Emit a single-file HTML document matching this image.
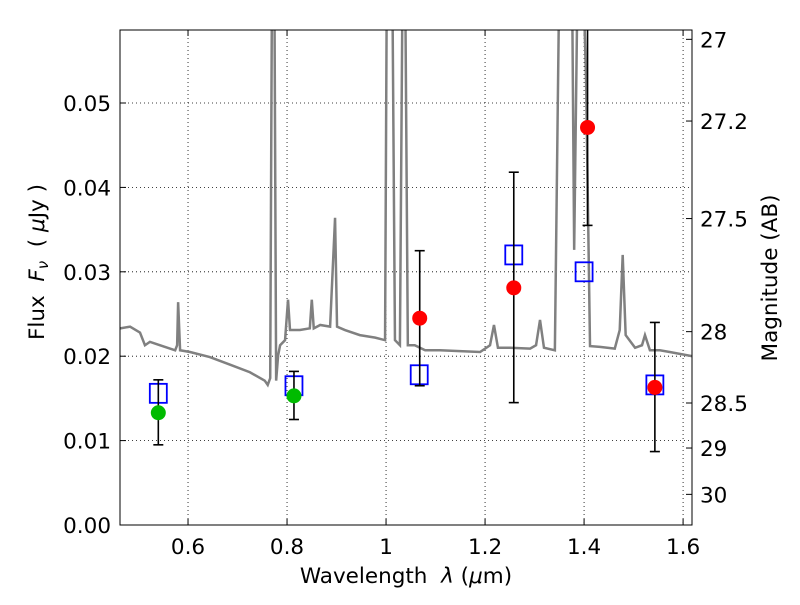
<!DOCTYPE html>
<html><head><meta charset="utf-8"><style>
body{margin:0;background:#fff;}
svg text{font-family:"DejaVu Sans","Liberation Sans",sans-serif;font-size:21.5px;fill:#000;white-space:pre;}
</style></head><body>
<svg id="chart" width="800" height="600" xmlns="http://www.w3.org/2000/svg"></svg>
<script>
const xTicks=[0.6,0.8,1.0,1.2,1.4,1.6];
const xTickLabels=["0.6","0.8","1","1.2","1.4","1.6"];
const yTicks=[0,0.01,0.02,0.03,0.04,0.05];
const yTickLabels=["0.00","0.01","0.02","0.03","0.04","0.05"];
const magTicks=[27,27.2,27.5,28,28.5,29,30];
const magTickLabels=["27","27.2","27.5","28","28.5","29","30"];
const specWave=[0.463,0.483,0.503,0.513,0.523,0.543,0.574,0.578,0.580,0.584,0.604,0.644,0.685,0.725,0.755,0.761,0.766,0.770,0.774,0.778,0.782,0.786,0.796,0.802,0.806,0.826,0.846,0.850,0.854,0.867,0.887,0.897,0.901,0.917,0.947,0.978,0.998,1.002,1.012,1.018,1.028,1.034,1.038,1.044,1.058,1.079,1.109,1.149,1.190,1.210,1.218,1.226,1.250,1.291,1.303,1.311,1.319,1.341,1.351,1.375,1.380,1.388,1.396,1.404,1.412,1.432,1.462,1.472,1.478,1.484,1.503,1.517,1.523,1.533,1.553,1.573,1.618];
const specFlux=[0.0233,0.0235,0.0228,0.0213,0.0217,0.0213,0.0207,0.0213,0.0264,0.0207,0.0205,0.0199,0.0190,0.0181,0.0171,0.0166,0.0174,0.07,0.07,0.0171,0.0201,0.0213,0.0219,0.0267,0.0231,0.0231,0.0233,0.0267,0.0233,0.0237,0.0235,0.0364,0.0235,0.0231,0.0225,0.0222,0.0219,0.07,0.07,0.0219,0.0213,0.07,0.07,0.0213,0.0213,0.0207,0.0207,0.0206,0.0205,0.0213,0.0237,0.0210,0.0210,0.0209,0.0213,0.0243,0.0210,0.0207,0.07,0.07,0.0326,0.07,0.07,0.0527,0.0212,0.0211,0.0209,0.0231,0.0320,0.0225,0.0210,0.0213,0.0225,0.0207,0.0207,0.0205,0.0200];
const redWave=[1.068,1.258,1.407,1.543];
const redFlux=[0.0245,0.0281,0.0471,0.0163];
const redLo=[0.0165,0.0145,0.0355,0.0087];
const redHi=[0.0325,0.0418,0.0700,0.0240];
const greenWave=[0.540,0.814];
const greenFlux=[0.0133,0.0153];
const greenLo=[0.0095,0.0125];
const greenHi=[0.0172,0.0182];
const modelWave=[0.540,0.814,1.067,1.258,1.400,1.543];
const modelFlux=[0.0156,0.0165,0.0178,0.0320,0.0300,0.0166];

const L=120,R=692,T=30,B=525;
const xmin=0.4626,xmax=1.618,ymin=0,ymax=0.05865;
const X=v=>L+(v-xmin)/(xmax-xmin)*(R-L);
const Y=v=>B-(v-ymin)/(ymax-ymin)*(B-T);
const magY=m=>Y(Math.pow(10,(23.9-m)/2.5));
const NS="http://www.w3.org/2000/svg";
const svg=document.getElementById('chart');
function el(tag,attrs,parent){const e=document.createElementNS(NS,tag);for(const k in attrs)e.setAttribute(k,attrs[k]);(parent||svg).appendChild(e);return e;}
const defs=el('defs',{});const cp=el('clipPath',{id:'clip'},defs);el('rect',{x:L,y:T,width:R-L,height:B-T},cp);

xTicks.forEach((v,i)=>{
 const g=el('line',{x1:X(v),x2:X(v),y1:T,y2:B,stroke:'#000','stroke-dasharray':'1,3','stroke-width':0.8});
 
 
 el('line',{x1:X(v),x2:X(v),y1:B,y2:B-6,stroke:'#000'});
 el('line',{x1:X(v),x2:X(v),y1:T,y2:T+6,stroke:'#000'});
 const t=el('text',{x:X(v),y:B+29,'text-anchor':'middle'});t.textContent=xTickLabels[i];
 
 
});
yTicks.forEach((v,i)=>{
 const g=el('line',{x1:L,x2:R,y1:Y(v),y2:Y(v),stroke:'#000','stroke-dasharray':'1,3','stroke-width':0.8});
 
 
 el('line',{x1:L,x2:L+6,y1:Y(v),y2:Y(v),stroke:'#000'});
 const t=el('text',{x:L-9,y:Y(v)+8,'text-anchor':'end'});t.textContent=yTickLabels[i];
 
 
});
magTicks.forEach((m,i)=>{
 el('line',{x1:R,x2:R-6,y1:magY(m),y2:magY(m),stroke:'#000'});
 const t=el('text',{x:R+8,y:magY(m)+8,'text-anchor':'start'});t.textContent=magTickLabels[i];
 
 
});

const sp=el('polyline',{points:specWave.map((w,i)=>X(w)+','+Y(specFlux[i])).join(' '),fill:'none',stroke:'#808080','stroke-width':2.5,'clip-path':'url(#clip)'});



modelWave.forEach((w,i)=>{
 const r=el('rect',{x:X(w)-8.5,y:Y(modelFlux[i])-9.5,width:17,height:19,fill:'none',stroke:'#0000ff','stroke-width':1.8,'clip-path':'url(#clip)'});
 
 
});
function pts(wave,flux,lo,hi,color,name){
 wave.forEach((w,i)=>{
  const x=X(w);
  el('line',{x1:x,x2:x,y1:Y(lo[i]),y2:Y(hi[i]),stroke:'#000','stroke-width':1.6,'clip-path':'url(#clip)'});
  el('line',{x1:x-5,x2:x+5,y1:Y(lo[i]),y2:Y(lo[i]),stroke:'#000','stroke-width':1.6,'clip-path':'url(#clip)'});
  el('line',{x1:x-5,x2:x+5,y1:Y(hi[i]),y2:Y(hi[i]),stroke:'#000','stroke-width':1.6,'clip-path':'url(#clip)'});
  const c=el('circle',{cx:x,cy:Y(flux[i]),r:7.5,fill:color});
  
  
 });
}
pts(greenWave,greenFlux,greenLo,greenHi,'#00bb00','green-photometry-point');
pts(redWave,redFlux,redLo,redHi,'#ff0000','red-photometry-point');

const fr=el('rect',{x:L,y:T,width:R-L,height:B-T,fill:'none',stroke:'#000','stroke-width':1});



const xt=el('text',{x:406,y:583,'text-anchor':'middle','font-size':'22'});xt.innerHTML='Wavelength  <tspan font-style="italic">λ</tspan> (<tspan font-style="italic">μ</tspan>m)';


const yt=el('text',{x:0,y:0,'text-anchor':'middle','font-size':'22',transform:'translate(44,262) rotate(-90)'});yt.innerHTML='Flux  <tspan font-style="italic">F</tspan><tspan font-style="italic" font-size="15" dy="4">ν</tspan><tspan dy="-4">  ( </tspan><tspan font-style="italic">μ</tspan>Jy )';


const rt=el('text',{x:0,y:0,'text-anchor':'middle','font-size':'22',transform:'translate(777,278) rotate(-90)'});rt.textContent='Magnitude (AB)';


</script>
</body></html>
